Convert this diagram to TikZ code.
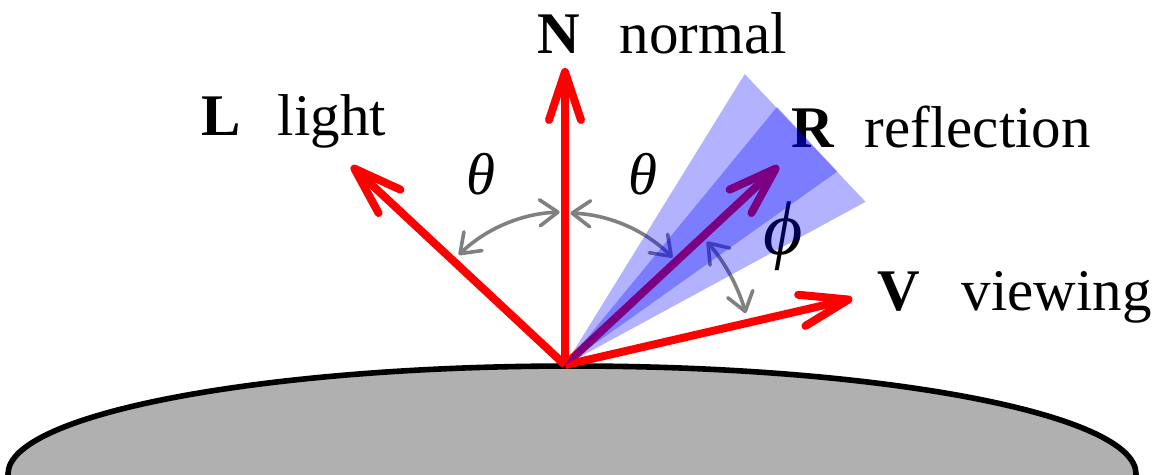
\documentclass[tikz,border=0pt]{standalone}
\usepackage{fontspec}
\setmainfont{Liberation Serif}
\usetikzlibrary{arrows.meta,calc}
\definecolor{surf}{RGB}{176,176,176}
\begin{document}
\begin{tikzpicture}[x=0.25pt,y=0.25pt,
  vec/.style={red, line width=2pt, -{Straight Barb[length=12pt,width=8pt,round]}},
  ang/.style={gray, line width=0.9pt, {Straight Barb[length=4.5pt,width=6.5pt,round]}-{Straight Barb[length=4.5pt,width=6.5pt,round]}},
  lbl/.style={inner sep=0pt, font=\fontsize{14.75}{17}\selectfont},
  cone/.style={fill=blue, fill opacity=0.3, draw=none}]
\clip (0,0) rectangle (1163,474);
\useasboundingbox (0,0) rectangle (1163,474);
% surface
\draw[fill=surf, line width=1.4pt] (572,0) ellipse [x radius=141pt, y radius=27pt];
% vectors
\coordinate (O) at (565,109);
\coordinate (L) at ([shift={(137:73pt)}]O);
\coordinate (N) at ([shift={(90:74.25pt)}]O);
\coordinate (R) at ([shift={(43:73pt)}]O);
\coordinate (V) at ([shift={(13:73.75pt)}]O);
\draw[vec] (O) -- (L);
\draw[vec] (O) -- (N);
\draw[vec] (O) -- (R);
\draw[vec] (O) -- (V);
% angle arcs
\draw[ang] ([shift={(92:38.25pt)}]O) arc[start angle=92,end angle=134,radius=38.25pt];
\draw[ang] ([shift={(88:38pt)}]O) arc[start angle=88,end angle=45,radius=38pt];
\draw[ang] ([shift={(41:47pt)}]O) arc[start angle=41,end angle=16,radius=47pt];
% labels
\node[lbl, anchor=base west] (Nb) at (537,421) {\textbf{N}};
\node[lbl, anchor=base west] (Nt) at (619,421) {normal};
\node[lbl, anchor=base west] (Lb) at (201,339) {\textbf{L}};
\node[lbl, anchor=base west] (Lt) at (277,339) {light};
\node[lbl, anchor=base west] (Rb) at (791,327) {\textbf{R}};
\node[lbl, anchor=base west] (Rt) at (864,327) {reflection};
\node[lbl, anchor=base west] (Vb) at (877,164) {\textbf{V}};
\node[lbl, anchor=base west] (Vt) at (961,164) {viewing};
\node[lbl] (th1) at (481,300) {\textit{θ}};
\node[lbl] (th2) at (643,300) {\textit{θ}};
\node[lbl, font=\fontsize{19}{22}\selectfont] (ph) at (783,238) {\textit{ϕ}};
% reflection cone
\fill[cone] (O) -- ([shift={(58.3:85.5pt)}]O) -- ([shift={(28.5:85.5pt)}]O) -- cycle;
\fill[cone] (O) -- ([shift={(50.6:83.5pt)}]O) -- ([shift={(35.4:83.5pt)}]O) -- cycle;
\end{tikzpicture}
\end{document}
